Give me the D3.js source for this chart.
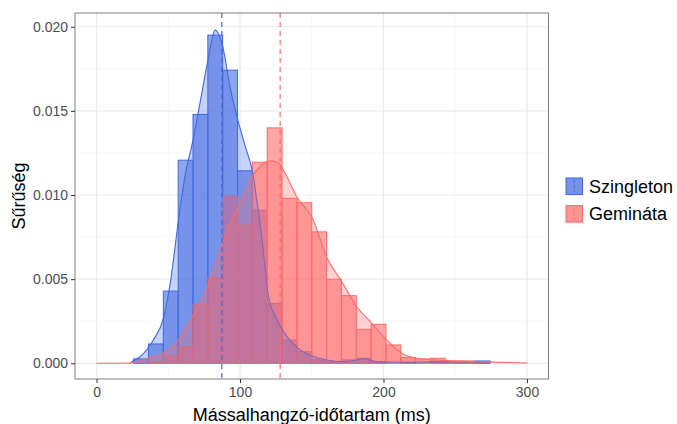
<!DOCTYPE html>
<html lang="hu">
<head>
<meta charset="UTF-8">
<title>Mássalhangzó-időtartam</title>
<script src="https://d3js.org/d3.v7.min.js"></script>
<style>
  body { margin: 0; background: #fff; }
  text { font-family: "Liberation Sans", Arial, sans-serif; }
</style>
</head>
<body>
<svg id="chart" width="677" height="424"></svg>
<script>
// bins: ggplot bins = 30 over [0, 300], bin k centred on k * binWidth
const binWidth = 300 / 29;
const szingletonHist = [0, 0, 0, 0.00026, 0.00115, 0.00429, 0.01207, 0.01479, 0.0195, 0.01742,
  0.01144, 0.0091, 0.00356, 0.00138, 0.00069, 0.0002, 0.0001, 0.0002, 0.0003, 0.0001,
  0, 0.00006, 0, 0.0001, 0.0001, 0.0001, 0.00014];
const geminataHist = [0, 0, 0, 0, 0.0001, 0.00045, 0.00099, 0.00352, 0.0051, 0.00993,
  0.0082, 0.01195, 0.01399, 0.0098, 0.00954, 0.00781, 0.00499, 0.00402, 0.00202, 0.00232,
  0.00109, 0.00034, 0.00026, 0.0003, 0.00014, 0.00014];

// density curves (ms, density)
const szingletonDensX = [23.5, 25.8, 30.4, 39.7, 46.7, 51.8, 57.1, 61.8, 67.1, 72.2, 77.6, 82.7,
  88.0, 93.1, 98.5, 103.6, 108.9, 111.7, 114.0, 116.3, 119.8, 125.7, 132.6, 141.9, 151.1,
  160.5, 171.8, 181.4, 184.9, 188.3, 195.3, 211.5, 244.1, 258.0, 274.9];
const szingletonDensY = [0, 0.00015, 0.0004, 0.0014, 0.0027, 0.005, 0.0085, 0.0112, 0.0132, 0.0155, 0.0180, 0.0198,
  0.0188, 0.0164, 0.01445, 0.0129, 0.0113, 0.0097, 0.0083, 0.0066, 0.0040, 0.0026, 0.0016, 0.0008, 0.0004,
  0.0002, 0.0001, 0.0002, 0.00027, 0.00025, 0.0001, 0.00006, 0.0001, 0.0001, 0.00008];
const geminataDensX = [0, 23.5, 36.2, 46.7, 57.1, 67.1, 77.3, 86.2, 93.2, 100.1, 107.1, 114.0, 121.0,
  126.8, 132.6, 139.6, 150.6, 160.5, 171.0, 181.4, 191.8, 202.3, 212.7, 223.2, 243.6, 264.5, 300.5];
const geminataDensY = [0, 0.00002, 0.0003, 0.0006, 0.0014, 0.0028, 0.0045, 0.0067, 0.0083, 0.0095, 0.0109, 0.01168, 0.01203,
  0.0119, 0.0111, 0.0099, 0.0086, 0.0063, 0.00485, 0.00336, 0.00238, 0.00138, 0.0006, 0.0003, 0.00016, 0.0001, 0.00002];

const szingletonMean = 87.3;
const geminataMean = 128;

const groups = ["Szingleton", "Gemináta"];
const colors = ["#4169E1", "#FF6A6A"];
const xTicks = [0, 100, 200, 300];
const yTicks = [0, 0.005, 0.010, 0.015, 0.020];

const panel = { left: 75, right: 548.5, top: 13, bottom: 379 };
const svg = d3.select("#chart");

const x = d3.scaleLinear().domain([-15, 315]).range([panel.left, panel.right]);
const y = d3.scaleLinear().domain([-0.000933, 0.020816]).range([panel.bottom, panel.top]);

// grid
const grid = svg.append("g");
const xMinor = [50, 150, 250], yMinor = [0.0025, 0.0075, 0.0125, 0.0175];
grid.selectAll(".xmin").data(xMinor).enter().append("line")
  .attr("x1", d => x(d)).attr("x2", d => x(d)).attr("y1", panel.top).attr("y2", panel.bottom)
  .attr("stroke", "#f3f3f3").attr("stroke-width", 0.7);
grid.selectAll(".ymin").data(yMinor).enter().append("line")
  .attr("y1", d => y(d)).attr("y2", d => y(d)).attr("x1", panel.left).attr("x2", panel.right)
  .attr("stroke", "#f3f3f3").attr("stroke-width", 0.7);
grid.selectAll(".xmaj").data(xTicks).enter().append("line")
  .attr("x1", d => x(d)).attr("x2", d => x(d)).attr("y1", panel.top).attr("y2", panel.bottom)
  .attr("stroke", "#ebebeb").attr("stroke-width", 1.2);
grid.selectAll(".ymaj").data(yTicks).enter().append("line")
  .attr("y1", d => y(d)).attr("y2", d => y(d)).attr("x1", panel.left).attr("x2", panel.right)
  .attr("stroke", "#ebebeb").attr("stroke-width", 1.2);

// histograms
[szingletonHist, geminataHist].forEach((vals, gi) => {
  const bars = vals.map((v, k) => ({ k, v })).filter(d => d.v > 0);
  svg.append("g").selectAll("rect").data(bars).enter().append("rect")
    .attr("x", d => x((d.k - 0.5) * binWidth))
    .attr("width", d => x((d.k + 0.5) * binWidth) - x((d.k - 0.5) * binWidth))
    .attr("y", d => y(d.v))
    .attr("height", d => y(0) - y(d.v))
    .attr("fill", colors[gi]).attr("fill-opacity", 0.6)
    .attr("stroke", colors[gi]).attr("stroke-width", 1);
});

// densities
[[szingletonDensX, szingletonDensY], [geminataDensX, geminataDensY]].forEach(([xs, ys], gi) => {
  const pts = xs.map((d, i) => [d, ys[i]]);
  const area = d3.area().x(d => x(d[0])).y0(y(0)).y1(d => y(d[1])).curve(d3.curveMonotoneX);
  const line = d3.line().x(d => x(d[0])).y(d => y(d[1])).curve(d3.curveMonotoneX);
  svg.append("path").attr("d", area(pts)).attr("fill", colors[gi]).attr("fill-opacity", 0.3);
  svg.append("path").attr("d", line(pts)).attr("fill", "none")
    .attr("stroke", colors[gi]).attr("stroke-width", 1.1);
});

// mean lines
[szingletonMean, geminataMean].forEach((m, gi) => {
  svg.append("line").attr("x1", x(m)).attr("x2", x(m)).attr("y1", panel.top).attr("y2", panel.bottom)
    .attr("stroke", colors[gi]).attr("stroke-opacity", 0.8).attr("stroke-width", 1.5)
    .attr("stroke-dasharray", "5,4");
});

// border
svg.append("rect").attr("x", panel.left).attr("y", panel.top)
  .attr("width", panel.right - panel.left).attr("height", panel.bottom - panel.top)
  .attr("fill", "none").attr("stroke", "#7f7f7f").attr("stroke-width", 1);

// axes
const xAxis = svg.append("g").attr("transform", `translate(0,${panel.bottom})`)
  .call(d3.axisBottom(x).tickValues(xTicks).tickSize(4).tickPadding(4).tickFormat(d3.format("d")));
const yAxis = svg.append("g").attr("transform", `translate(${panel.left},0)`)
  .call(d3.axisLeft(y).tickValues(yTicks).tickSize(4).tickPadding(3).tickFormat(d3.format(".3f")));
[xAxis, yAxis].forEach(a => {
  a.select(".domain").remove();
  a.selectAll(".tick line").attr("stroke", "#333");
  a.selectAll(".tick text").attr("fill", "#4d4d4d").style("font-size", "14px")
    .style("font-family", "'Liberation Sans', Arial, sans-serif");
});

// titles
svg.append("text").attr("x", (panel.left + panel.right) / 2).attr("y", 421)
  .attr("text-anchor", "middle").style("font-size", "18px").text("Mássalhangzó-időtartam (ms)");
svg.append("text").attr("transform", `translate(25,${(panel.top + panel.bottom) / 2}) rotate(-90)`)
  .attr("text-anchor", "middle").style("font-size", "18px").text("Sűrűség");

// legend
const legend = svg.append("g");
groups.forEach((g, i) => {
  const ky = 178 + i * 27.6;
  legend.append("rect").attr("x", 566).attr("y", ky).attr("width", 16.5).attr("height", 16.5)
    .attr("fill", colors[i]).attr("fill-opacity", 0.6).attr("stroke", colors[i]).attr("stroke-width", 1);
  legend.append("rect").attr("x", 566).attr("y", ky).attr("width", 16.5).attr("height", 16.5)
    .attr("fill", colors[i]).attr("fill-opacity", 0.3);
  legend.append("line").attr("x1", 574.25).attr("x2", 574.25).attr("y1", ky + 2).attr("y2", ky + 14.5)
    .attr("stroke", colors[i]).attr("stroke-opacity", 0.8).attr("stroke-width", 1.2)
    .attr("stroke-dasharray", "3,2");
  legend.append("text").attr("x", 589).attr("y", ky + 14.5).style("font-size", "18px").text(g);
});
</script>
</body>
</html>
